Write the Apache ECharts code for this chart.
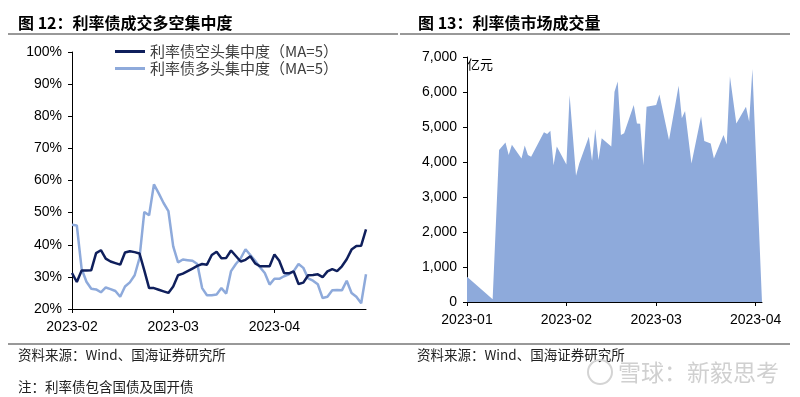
<!DOCTYPE html>
<html>
<head>
<meta charset="utf-8">
<script src="https://cdn.jsdelivr.net/npm/echarts@6/dist/echarts.min.js"></script>
<style>
    html, body { margin: 0; padding: 0; background: #fff; }
    #main { width: 800px; height: 397px; }
</style>
</head>
<body>
<div id="main"></div>
<script>
(function () {
    'use strict';

    var FONT = '"Liberation Sans", Arial, "Noto Sans CJK SC", sans-serif';
    var CJK = '"Noto Sans CJK SC", "Liberation Sans", sans-serif';

    // 图12：交易日（2023-02-01 ~ 2023-04-28）
    var tradeDays = [
        '2023-02-01', '2023-02-02', '2023-02-03', '2023-02-06', '2023-02-07', '2023-02-08', '2023-02-09', '2023-02-10',
        '2023-02-13', '2023-02-14', '2023-02-15', '2023-02-16', '2023-02-17', '2023-02-20', '2023-02-21', '2023-02-22',
        '2023-02-23', '2023-02-24', '2023-02-27', '2023-02-28', '2023-03-01', '2023-03-02', '2023-03-03', '2023-03-06',
        '2023-03-07', '2023-03-08', '2023-03-09', '2023-03-10', '2023-03-13', '2023-03-14', '2023-03-15', '2023-03-16',
        '2023-03-17', '2023-03-20', '2023-03-21', '2023-03-22', '2023-03-23', '2023-03-24', '2023-03-27', '2023-03-28',
        '2023-03-29', '2023-03-30', '2023-03-31', '2023-04-03', '2023-04-04', '2023-04-06', '2023-04-07', '2023-04-10',
        '2023-04-11', '2023-04-12', '2023-04-13', '2023-04-14', '2023-04-17', '2023-04-18', '2023-04-19', '2023-04-20',
        '2023-04-21', '2023-04-24', '2023-04-25', '2023-04-26', '2023-04-27', '2023-04-28'
    ];
    var leftTickLabels = ['2023-02', '2023-03', '2023-04'];
    var leftTickStep = 21;

    // 利率债空头集中度（MA=5），%
    var bearConc = [
        31.2, 28.4, 32.0, 32.0, 32.1, 37.4, 38.3, 35.7, 34.8, 34.3,
        33.8, 37.6, 38.0, 37.7, 37.3, 32.0, 26.5, 26.5, 26.0, 25.5,
        25.0, 27.0, 30.5, 31.0, 31.8, 32.6, 33.4, 34.0, 33.8, 36.8,
        37.8, 35.8, 35.9, 38.2, 36.5, 34.8, 35.3, 36.4, 34.2, 33.3,
        33.3, 33.3, 37.0, 35.0, 31.2, 31.1, 31.7, 27.8, 28.2, 30.5,
        30.6, 30.8, 29.9, 31.7, 32.4, 31.8, 33.3, 35.5, 38.5, 39.6,
        39.7, 44.8
    ];
    // 利率债多头集中度（MA=5），%
    var bullConc = [
        46.2, 46.0, 32.5, 28.5, 26.3, 26.1, 25.2, 26.7, 26.2, 25.6,
        23.8, 27.0, 28.3, 30.5, 35.8, 50.2, 49.2, 58.8, 56.0, 53.0,
        50.5, 39.5, 34.5, 35.4, 35.2, 35.0, 34.0, 26.5, 24.3, 24.3,
        24.5, 26.5, 24.8, 31.8, 34.0, 35.8, 38.6, 36.8, 35.0, 33.0,
        31.2, 27.6, 29.4, 29.4, 30.2, 30.8, 31.8, 34.0, 32.8, 29.5,
        28.8, 27.7, 23.4, 23.8, 25.8, 25.9, 25.8, 28.8, 25.0, 23.8,
        21.8, 30.8
    ];

    // 图13：利率债市场成交量，亿元
    var volDates = [
        '2023-01-01', '2023-01-09', '2023-01-11', '2023-01-13', '2023-01-14', '2023-01-15', '2023-01-18', '2023-01-19',
        '2023-01-20', '2023-01-21', '2023-01-25', '2023-01-26', '2023-01-27', '2023-01-28', '2023-01-29', '2023-02-01',
        '2023-02-02', '2023-02-04', '2023-02-05', '2023-02-08', '2023-02-09', '2023-02-10', '2023-02-11', '2023-02-12',
        '2023-02-15', '2023-02-16', '2023-02-17', '2023-02-18', '2023-02-19', '2023-02-22', '2023-02-23', '2023-02-24',
        '2023-02-25', '2023-02-26', '2023-03-01', '2023-03-02', '2023-03-05', '2023-03-08', '2023-03-09', '2023-03-10',
        '2023-03-12', '2023-03-15', '2023-03-16', '2023-03-18', '2023-03-19', '2023-03-22', '2023-03-23', '2023-03-24',
        '2023-03-26', '2023-03-29', '2023-03-30', '2023-03-31', '2023-04-03'
    ];
    var volValues = [
        720, 80, 4340, 4560, 4200, 4490, 4100, 4470,
        4200, 4150, 4850, 4800, 4890, 3910, 4440, 3930,
        5910, 3610, 3960, 4720, 4030, 4940, 4060, 4680,
        4440, 6010, 6300, 4770, 4820, 5630, 5100, 5090,
        3910, 5580, 5630, 5930, 4630, 6180, 5250, 5460,
        3960, 5300, 4600, 4530, 4100, 4770, 4500, 6440,
        5100, 5580, 5150, 6660, 0
    ];
    var volTicks = [0, 1000, 2000, 3000, 4000, 5000, 6000, 7000];

    var bearName = '利率债空头集中度（MA=5）';
    var bullName = '利率债多头集中度（MA=5）';
    var darkColor = '#0f1f5c';
    var lightColor = '#8eaadb';

    function pad2(n) { return ('0' + n).slice(-2); }

    var volData = volDates.map(function (d, i) { return [d, volValues[i]]; });

    var axisText = { fontSize: 14, color: '#000', fontFamily: FONT };

    function txt(x, y, text, size, weight, fill, family) {
        return {
            type: 'text', x: x, y: y, silent: true,
            style: { text: text, fontSize: size, fontWeight: weight || 'normal', fill: fill || '#000',
                fontFamily: family || CJK, verticalAlign: 'middle' }
        };
    }
    function hline(x1, x2, y) {
        return { type: 'line', silent: true, shape: { x1: x1, y1: y, x2: x2, y2: y },
            style: { stroke: '#333', lineWidth: 1 } };
    }

    var option = {
        backgroundColor: '#fff',
        animation: false,
        textStyle: { fontFamily: FONT },
        grid: [
            { left: 72, right: 434, top: 52, bottom: 88 },
            { left: 467, right: 38, top: 57, bottom: 95 }
        ],
        legend: {
            data: [bearName, bullName],
            orient: 'vertical',
            left: 110, top: 39,
            icon: 'rect', itemWidth: 30, itemHeight: 3, itemGap: 2,
            textStyle: { fontSize: 15, color: '#404040', fontFamily: CJK }
        },
        xAxis: [{
            gridIndex: 0,
            type: 'category',
            data: tradeDays,
            boundaryGap: false,
            axisLine: { lineStyle: { color: '#000', width: 1 } },
            axisTick: { length: 4, lineStyle: { color: '#000' },
                interval: function (i) { return i % leftTickStep === 0; } },
            axisLabel: Object.assign({
                margin: 11,
                interval: function (i) { return i % leftTickStep === 0; },
                formatter: function (v, i) { return leftTickLabels[i / leftTickStep]; }
            }, axisText),
            splitLine: { show: false }
        }, {
            gridIndex: 1,
            type: 'time',
            min: '2023-01-01',
            max: '2023-04-03',
            minInterval: 28 * 86400000,
            maxInterval: 31 * 86400000,
            axisLine: { lineStyle: { color: '#000', width: 1 } },
            axisTick: { length: 4, lineStyle: { color: '#000' } },
            axisLabel: Object.assign({
                margin: 11,
                formatter: function (v) {
                    var d = new Date(v);
                    return d.getFullYear() + '-' + pad2(d.getMonth() + 1);
                }
            }, axisText),
            splitLine: { show: false }
        }],
        yAxis: [{
            gridIndex: 0,
            type: 'value',
            min: 20, max: 100, interval: 10,
            axisLine: { show: true, lineStyle: { color: '#000', width: 1 } },
            axisTick: { show: true, length: 4, lineStyle: { color: '#000' } },
            axisLabel: Object.assign({ margin: 10, formatter: '{value}%' }, axisText),
            splitLine: { show: false }
        }, {
            gridIndex: 1,
            type: 'value',
            min: volTicks[0], max: volTicks[volTicks.length - 1], interval: 1000,
            name: '亿元',
            nameLocation: 'end',
            nameGap: -14,
            nameTextStyle: { align: 'left', fontSize: 13, color: '#000', fontFamily: CJK, padding: [0, 0, 0, 0] },
            axisLine: { show: true, lineStyle: { color: '#000', width: 1 } },
            axisTick: { show: true, length: 4, lineStyle: { color: '#000' } },
            axisLabel: Object.assign({ margin: 10, formatter: function (v) { return v.toLocaleString('en-US'); } }, axisText),
            splitLine: { show: false }
        }],
        series: [{
            name: bearName,
            type: 'line',
            xAxisIndex: 0, yAxisIndex: 0,
            data: bearConc,
            showSymbol: false,
            color: darkColor,
            lineStyle: { width: 2.5, color: darkColor },
            z: 3
        }, {
            name: bullName,
            type: 'line',
            xAxisIndex: 0, yAxisIndex: 0,
            data: bullConc,
            showSymbol: false,
            color: lightColor,
            lineStyle: { width: 2.5, color: lightColor },
            z: 2
        }, {
            name: '利率债市场成交量',
            type: 'line',
            xAxisIndex: 1, yAxisIndex: 1,
            data: volData,
            showSymbol: false,
            color: lightColor,
            lineStyle: { width: 0 },
            areaStyle: { color: lightColor, opacity: 1 }
        }],
        graphic: [
            txt(18, 23, '图 12：利率债成交多空集中度', 16, 'bold'),
            txt(418, 23, '图 13：利率债市场成交量', 16, 'bold'),
            hline(8, 398, 34),
            hline(400, 790, 34),
            hline(8, 400, 344),
            hline(400, 790, 344),
            txt(18, 355, '资料来源：Wind、国海证券研究所', 13.5, 'normal', '#222'),
            txt(417, 355, '资料来源：Wind、国海证券研究所', 13.5, 'normal', '#222'),
            txt(18, 387, '注：利率债包含国债及国开债', 13.5, 'normal', '#222'),
            { type: 'circle', silent: true, shape: { cx: 600, cy: 372, r: 12 },
                style: { fill: 'none', stroke: '#d4d4d4', lineWidth: 2 } },
            txt(618, 372, '雪球：新毅思考', 23, 'normal', '#d0d0d0')
        ]
    };

    var chart = echarts.init(document.getElementById('main'), null, { renderer: 'canvas' });
    chart.setOption(option);
    window.onresize = function () { chart.resize(); };
})();
</script>
</body>
</html>
